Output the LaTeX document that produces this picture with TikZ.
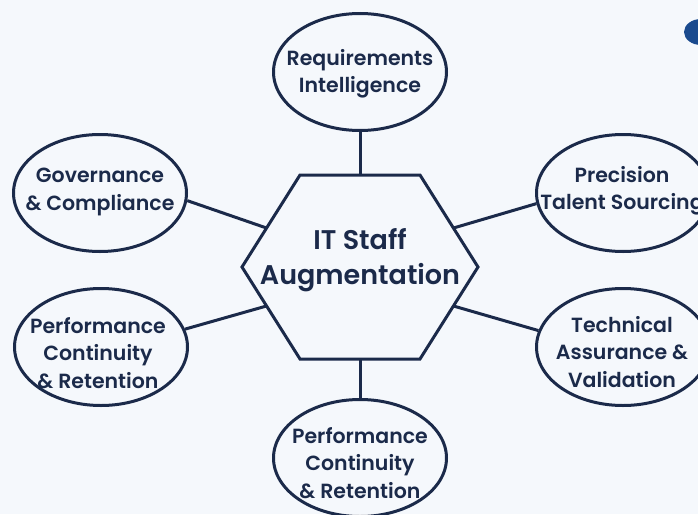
\documentclass[tikz,border=0pt]{standalone}
\usepackage{fontspec}
\setmainfont{Poppins}[BoldFont={Poppins SemiBold}]
\usetikzlibrary{shapes.geometric}
\definecolor{navy}{RGB}{27,42,74}
\definecolor{bgblue}{RGB}{245,248,252}
\definecolor{blobblue}{RGB}{26,74,142}
\tikzset{
  link/.style={draw=navy, line width=3pt},
  topic/.style={link, ellipse, minimum width=173pt, minimum height=117pt, inner sep=0pt},
  caption/.style={text=navy, font=\bfseries\fontsize{20.5}{27.5}\selectfont, align=center},
  hub/.style={text=navy, font=\bfseries\fontsize{27}{35}\selectfont, align=center}
}

\begin{document}
\begin{tikzpicture}[x=1pt, y=-1pt]
			%%%%% START %%%%%
			\fill[bgblue] (0, 0) rectangle (698, 514);
			\useasboundingbox (0, 0) rectangle (698, 514);
			\fill[blobblue] (701, 32) ellipse (17pt and 13pt);
			
			% hexagon in the middle
			\draw[link, line join=miter] (300, 175) -- (420, 175) -- (478, 267) -- (420, 359) -- (300, 359) -- (242, 267) -- cycle;
			\node[hub] (hub) at (360, 260) {IT Staff\\Augmentation};
			\coordinate (hubN) at (360, 175);
			\coordinate (hubS) at (360, 359);
			\coordinate (hubNW) at (266.5, 228);
			\coordinate (hubNE) at (453.5, 228);
			\coordinate (hubSW) at (266.5, 306);
			\coordinate (hubSE) at (453.5, 306);
			
			% ellipses round it
			\node[topic] (req) at (360, 72) {};
			\node[topic] (gov) at (100, 193) {};
			\node[topic] (tal) at (623, 193) {};
			\node[topic] (pcl) at (101, 347) {};
			\node[topic] (tav) at (623, 347) {};
			\node[topic] (pcb) at (360, 458) {};
			
			\node[caption] (reqT) at (360, 74) {Requirements\\Intelligence};
			\node[caption] (govT) at (100, 192) {Governance\\\& Compliance};
			\node[caption] (talT) at (622, 191) {Precision\\Talent Sourcing};
			\node[caption] (pclT) at (98, 353) {Performance\\Continuity\\\& Retention};
			\node[caption] (tavT) at (622, 352) {Technical\\Assurance \&\\Validation};
			\node[caption] (pcbT) at (360, 463) {Performance\\Continuity\\\& Retention};
			
			% spokes
			\draw[link] (hubN) -- (req.south);
			\draw[link] (hubS) -- (pcb.north);
			\draw[link] (hubNW) -- (gov.-5);
			\draw[link] (hubSW) -- (pcl.12);
			\draw[link] (hubNE) -- (tal.187);
			\draw[link] (hubSE) -- (tav.169);
			%%%%% END %%%%%
\end{tikzpicture}
\end{document}
